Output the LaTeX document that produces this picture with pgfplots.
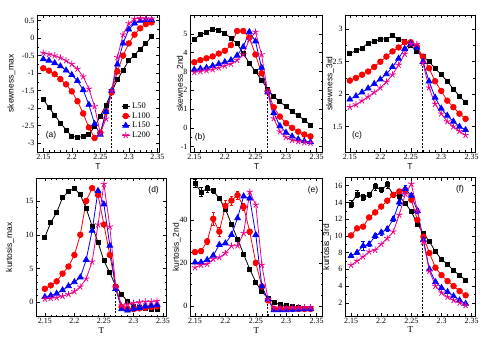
\documentclass[border=0pt]{standalone}
\usepackage{pgfplots}
\pgfplotsset{compat=1.18}
\usepackage{fontspec}
\setmainfont{Liberation Serif}
\setsansfont{Liberation Sans}
\pgfplotsset{
  panel/.style={scale only axis, axis line style={line width=0.7bp},
    every tick/.style={black, line width=0.5bp}, major tick length=3.5bp, minor tick length=2bp,
    tick label style={font=\fontsize{8}{9}\selectfont},
    /pgf/number format/assume math mode=true,
    xtick={2.15,2.2,2.25,2.3,2.35}, xticklabels={2.15,2.2,2.25,2.3,2.35}, minor x tick num=4,
    xticklabel style={yshift=1.5bp}, yticklabel style={xshift=1bp},
    label style={font=\sffamily\fontsize{8.5}{9}\selectfont},
    xlabel={T}, clip=false},
  L50/.style={black, line width=0.8bp, mark=square*, mark size=2bp},
  L100/.style={red, line width=0.8bp, mark=*, mark size=2.8bp},
  L150/.style={blue, line width=0.8bp, mark=triangle*, mark size=3.3bp},
  L200/.style={magenta, line width=0.8bp, mark=star, mark size=3.4bp, mark options={line width=0.8bp}},
  eb/.style={error bars/.cd, y dir=both, y explicit, error bar style={line width=0.6bp}, error mark options={rotate=90, mark size=1.6bp, line width=0.6bp}},
  tc/.style={black, line width=0.9bp, dash pattern=on 2bp off 1.5bp, forget plot}
}
\tikzset{plab/.style={font=\sffamily\fontsize{8.5}{9}\selectfont}}
\begin{document}
\begin{tikzpicture}
\path[use as bounding box] (0,0) rectangle (491bp,339bp);
% (a)
\begin{axis}[panel, at={(37bp,324bp)}, anchor=north west, width=122bp, height=137bp,
  xmin=2.139, xmax=2.353, ymin=-3.25, ymax=0.66,
  ytick={-3,-2.5,-2,-1.5,-1,-0.5,0,0.5}, yticklabels={-3,-2.5,-2,-1.5,-1,-0.5,0,0.5}, minor y tick num=1,
  ylabel={skewness\_max}, ylabel style={at={(axis description cs:-0.21,0.5)}, anchor=center},
  xlabel style={at={(axis description cs:0.5,-0.105)}, anchor=center},
  legend style={draw=none, fill=none, at={(0.69,0.375)}, anchor=north west, font=\fontsize{8.5}{9}\selectfont, row sep=-1.5bp, inner sep=0pt},
  legend cell align=left,
  legend image code/.code={\draw[mark repeat=2,mark phase=2] plot coordinates {(0bp,0bp)(4bp,0bp)(8bp,0bp)};}]
\addplot[L50] coordinates {(2.15,-1.75)(2.16,-1.98)(2.17,-2.2)(2.18,-2.42)(2.19,-2.62)(2.20,-2.80)(2.21,-2.83)(2.22,-2.81)(2.23,-2.74)(2.24,-2.53)(2.25,-2.22)(2.26,-1.91)(2.27,-1.53)(2.28,-1.19)(2.29,-0.91)(2.30,-0.64)(2.31,-0.48)(2.32,-0.31)(2.33,-0.15)(2.34,0.04)};
\addplot[L100] coordinates {(2.15,-0.86)(2.16,-0.93)(2.17,-1.03)(2.18,-1.17)(2.19,-1.32)(2.20,-1.52)(2.21,-1.8)(2.22,-2.15)(2.23,-2.55)(2.24,-2.85)(2.25,-2.7)(2.26,-2.1)(2.27,-1.55)(2.28,-0.95)(2.29,-0.5)(2.30,-0.15)(2.31,0.1)(2.32,0.28)(2.33,0.4)(2.34,0.45)};
\addplot[L150] coordinates {(2.15,-0.6)(2.16,-0.64)(2.17,-0.71)(2.18,-0.8)(2.19,-0.92)(2.20,-1.05)(2.21,-1.22)(2.22,-1.48)(2.23,-1.9)(2.24,-2.45)(2.25,-2.75)(2.26,-2.1)(2.27,-1.5)(2.28,-0.75)(2.29,-0.15)(2.30,0.25)(2.31,0.42)(2.32,0.5)(2.33,0.52)(2.34,0.52)};
\addplot[L200] coordinates {(2.15,-0.42)(2.16,-0.46)(2.17,-0.5)(2.18,-0.56)(2.19,-0.64)(2.20,-0.74)(2.21,-0.88)(2.22,-1.1)(2.23,-1.45)(2.24,-1.95)(2.25,-2.72)(2.26,-2.3)(2.27,-1.5)(2.28,-0.55)(2.29,0.1)(2.30,0.42)(2.31,0.55)(2.32,0.57)(2.33,0.56)(2.34,0.55)};
\addplot[tc] coordinates {(2.269,-3.25)(2.269,-1.55)};
\legend{L50,L100,L150,L200}
\node[plab] at (rel axis cs:0.115,0.124) {(a)};
\end{axis}
% (b)
\begin{axis}[panel, at={(190bp,324bp)}, anchor=north west, width=132.7bp, height=137bp,
  xmin=2.143, xmax=2.36, ymin=-1.28, ymax=6.0,
  ytick={-1,0,1,2,3,4,5}, yticklabels={-1,0,1,2,3,4,5}, minor y tick num=1,
  ylabel={skewness\_2nd}, ylabel style={at={(axis description cs:-0.07,0.5)}, anchor=center},
  xlabel style={at={(axis description cs:0.5,-0.105)}, anchor=center}]
\addplot[L50] coordinates {(2.15,4.72)(2.16,4.95)(2.17,5.09)(2.18,5.25)(2.19,5.2)(2.20,5.03)(2.21,4.77)(2.22,4.47)(2.23,3.97)(2.24,3.44)(2.25,3.0)(2.26,2.55)(2.27,2.05)(2.28,1.66)(2.29,1.39)(2.30,1.13)(2.31,0.86)(2.32,0.65)(2.33,0.42)(2.34,0.15)};
\addplot[L100] coordinates {(2.15,3.49)(2.16,3.6)(2.17,3.7)(2.18,3.8)(2.19,3.95)(2.20,4.1)(2.21,4.4)(2.22,5.15)(2.23,5.15)(2.24,4.8)(2.25,3.9)(2.26,2.9)(2.27,1.95)(2.28,1.1)(2.29,0.6)(2.30,0.25)(2.31,0.0)(2.32,-0.2)(2.33,-0.35)(2.34,-0.45)};
\addplot[L150] coordinates {(2.15,3.1)(2.16,3.15)(2.17,3.2)(2.18,3.3)(2.19,3.4)(2.20,3.5)(2.21,3.6)(2.22,3.85)(2.23,4.3)(2.24,5.1)(2.25,4.6)(2.26,3.2)(2.27,1.9)(2.28,0.8)(2.29,0.1)(2.30,-0.25)(2.31,-0.45)(2.32,-0.6)(2.33,-0.7)(2.34,-0.75)};
\addplot[L200] coordinates {(2.15,2.95)(2.16,3.0)(2.17,3.05)(2.18,3.1)(2.19,3.2)(2.20,3.3)(2.21,3.4)(2.22,3.6)(2.23,3.9)(2.24,4.7)(2.25,5.1)(2.26,3.9)(2.27,1.9)(2.28,0.5)(2.29,-0.2)(2.30,-0.5)(2.31,-0.65)(2.32,-0.72)(2.33,-0.78)(2.34,-0.8)};
\addplot[tc] coordinates {(2.269,-1.28)(2.269,1.9)};
\node[plab] at (rel axis cs:0.075,0.11) {(b)};
\end{axis}
% (c)
\begin{axis}[panel, at={(345bp,324bp)}, anchor=north west, width=130bp, height=137bp,
  xmin=2.142, xmax=2.3555, ymin=1.11, ymax=3.22,
  ytick={1.5,2,2.5,3}, yticklabels={1.5,2,2.5,3}, minor y tick num=1,
  ylabel={skewness\_3rd}, ylabel style={at={(axis description cs:-0.115,0.5)}, anchor=center},
  xlabel style={at={(axis description cs:0.5,-0.105)}, anchor=center}]
\addplot[L50] coordinates {(2.15,2.63)(2.16,2.67)(2.17,2.71)(2.18,2.79)(2.19,2.81)(2.20,2.85)(2.21,2.85)(2.22,2.9)(2.23,2.85)(2.24,2.82)(2.25,2.75)(2.26,2.66)(2.27,2.58)(2.28,2.5)(2.29,2.4)(2.30,2.3)(2.31,2.2)(2.32,2.08)(2.33,1.97)(2.34,1.87)};
\addplot[L100] coordinates {(2.15,2.21)(2.16,2.25)(2.17,2.3)(2.18,2.35)(2.19,2.42)(2.20,2.5)(2.21,2.58)(2.22,2.66)(2.23,2.72)(2.24,2.8)(2.25,2.8)(2.26,2.73)(2.27,2.58)(2.28,2.4)(2.29,2.2)(2.30,2.05)(2.31,1.9)(2.32,1.8)(2.33,1.7)(2.34,1.62)};
\addplot[L150] coordinates {(2.15,1.92)(2.16,1.97)(2.17,2.03)(2.18,2.09)(2.19,2.16)(2.20,2.23)(2.21,2.31)(2.22,2.42)(2.23,2.55)(2.24,2.7)(2.25,2.78)(2.26,2.72)(2.27,2.5)(2.28,2.2)(2.29,1.95)(2.30,1.78)(2.31,1.67)(2.32,1.58)(2.33,1.5)(2.34,1.45)};
\addplot[L200] coordinates {(2.15,1.8)(2.16,1.84)(2.17,1.9)(2.18,1.96)(2.19,2.03)(2.20,2.1)(2.21,2.19)(2.22,2.3)(2.23,2.45)(2.24,2.62)(2.25,2.77)(2.26,2.77)(2.27,2.48)(2.28,2.1)(2.29,1.85)(2.30,1.7)(2.31,1.58)(2.32,1.5)(2.33,1.43)(2.34,1.37)};
\addplot[tc] coordinates {(2.269,1.11)(2.269,2.55)};
\node[plab] at (rel axis cs:0.092,0.124) {(c)};
\end{axis}
% (d)
\begin{axis}[panel, at={(36bp,161bp)}, anchor=north west, width=130.7bp, height=138.5bp,
  xmin=2.135, xmax=2.3563, ymin=-2.1, ymax=18.4,
  ytick={0,5,10,15}, yticklabels={0,5,10,15}, minor y tick num=4,
  ylabel={kurtosis\_max}, ylabel style={at={(axis description cs:-0.2,0.5)}, anchor=center},
  xlabel style={at={(axis description cs:0.5,-0.1)}, anchor=center, font=\fontsize{9}{9}\selectfont}]
\addplot[L50] coordinates {(2.15,9.65)(2.16,11.8)(2.17,13.3)(2.18,15.5)(2.19,16.4)(2.20,16.9)(2.21,15.9)(2.22,13.9)(2.23,11.25)(2.24,8.9)(2.25,6.15)(2.26,4.4)(2.27,2.4)(2.28,1.15)(2.29,0.15)(2.30,-0.6)(2.31,-0.8)(2.32,-0.9)(2.33,-1.0)(2.34,-1.0)};
\addplot[L100] coordinates {(2.15,2.0)(2.16,2.5)(2.17,3.1)(2.18,4.25)(2.19,5.3)(2.20,7.0)(2.21,10.0)(2.22,15.0)(2.23,16.9)(2.24,15.9)(2.25,11.5)(2.26,7.0)(2.27,2.3)(2.28,-0.7)(2.29,-1.0)(2.30,-1.0)(2.31,-0.9)(2.32,-0.8)(2.33,-0.7)(2.34,-0.6)};
\addplot[L150] coordinates {(2.15,0.8)(2.16,1.0)(2.17,1.3)(2.18,1.8)(2.19,2.4)(2.20,3.0)(2.21,3.7)(2.22,6.3)(2.23,10.6)(2.24,16.5)(2.25,14.5)(2.26,8.4)(2.27,2.0)(2.28,-1.0)(2.29,-1.2)(2.30,-1.0)(2.31,-0.8)(2.32,-0.6)(2.33,-0.5)(2.34,-0.4)};
\addplot[L200] coordinates {(2.15,0.5)(2.16,0.6)(2.17,0.7)(2.18,0.9)(2.19,1.2)(2.20,1.6)(2.21,2.3)(2.22,3.5)(2.23,6.0)(2.24,11.5)(2.25,17.5)(2.26,11.2)(2.27,2.3)(2.28,-0.5)(2.29,-0.3)(2.30,-0.1)(2.31,0.0)(2.32,0.1)(2.33,0.1)(2.34,0.2)};
\addplot[tc] coordinates {(2.269,-2.1)(2.269,2.0)};
\node[plab] at (rel axis cs:0.9,0.913) {(d)};
\end{axis}
% (e)
\begin{axis}[panel, at={(190bp,161bp)}, anchor=north west, width=132.7bp, height=138.5bp,
  xmin=2.1418, xmax=2.36, ymin=-5, ymax=59.5,
  ytick={0,20,40}, yticklabels={0,20,40}, minor y tick num=3,
  ylabel={kurtosis\_2nd}, ylabel style={at={(axis description cs:-0.1,0.5)}, anchor=center},
  xlabel style={at={(axis description cs:0.5,-0.1)}, anchor=center, font=\fontsize{9}{9}\selectfont}]
\addplot[L50, eb] coordinates {(2.15,57) +- (0,2)(2.16,53) +- (0,2)(2.17,54.5) +- (0,1.5)(2.18,53.5) +- (0,1)(2.19,50) +- (0,1)(2.20,45) +- (0,1)(2.21,38) +- (0,1)(2.22,31) +- (0,0.8)(2.23,24) +- (0,0.8)(2.24,17) +- (0,0.6)(2.25,11) +- (0,0.5)(2.26,6.5) +- (0,0.4)(2.27,3.5) +- (0,0.3)(2.28,1.5) +- (0,0.3)(2.29,0.5) +- (0,0.2)(2.30,0) +- (0,0.2)(2.31,-0.5) +- (0,0.2)(2.32,-0.8) +- (0,0.2)(2.33,-1) +- (0,0.2)(2.34,-1) +- (0,0.2)};
\addplot[L100, eb] coordinates {(2.15,25) +- (0,1)(2.16,25.5) +- (0,1)(2.17,30) +- (0,1.5)(2.18,40.5) +- (0,3)(2.19,34.5) +- (0,2)(2.20,46.5) +- (0,2.5)(2.21,49) +- (0,2)(2.22,51.5) +- (0,2)(2.23,46) +- (0,1.5)(2.24,34.5) +- (0,1)(2.25,20) +- (0,1)(2.26,9) +- (0,0.5)(2.27,2.5) +- (0,0.3)(2.28,-1.5) +- (0,0.2)(2.29,-1.5) +- (0,0.2)(2.30,-1.5) +- (0,0.2)(2.31,-1.5) +- (0,0.2)(2.32,-1.5) +- (0,0.2)(2.33,-1.5) +- (0,0.2)(2.34,-1.5) +- (0,0.2)};
\addplot[L150] coordinates {(2.15,20.2)(2.16,20.2)(2.17,21.4)(2.18,23.4)(2.19,28.4)(2.20,29.1)(2.21,33)(2.22,40.8)(2.23,51)(2.24,50)(2.25,33)(2.26,9)(2.27,3)(2.28,-2)(2.29,-2)(2.30,-2)(2.31,-1.8)(2.32,-1.7)(2.33,-1.6)(2.34,-1.5)};
\addplot[L200] coordinates {(2.15,17.8)(2.16,19)(2.17,19.4)(2.18,21.7)(2.19,22.5)(2.20,24.5)(2.21,27.9)(2.22,28)(2.23,33.8)(2.24,53)(2.25,47)(2.26,19)(2.27,3)(2.28,-1)(2.29,-1)(2.30,-1)(2.31,-0.8)(2.32,-0.8)(2.33,-0.8)(2.34,-0.8)};
\addplot[tc] coordinates {(2.269,-5)(2.269,3)};
\node[plab] at (rel axis cs:0.927,0.913) {(e)};
\end{axis}
% (f)
\begin{axis}[panel, at={(345bp,161.3bp)}, anchor=north west, width=130.7bp, height=138.5bp,
  xmin=2.14, xmax=2.3567, ymin=0.4, ymax=16.95,
  ytick={2,4,6,8,10,12,14,16}, yticklabels={2,4,6,8,10,12,14,16}, minor y tick num=1,
  ylabel={kurtosis\_3rd}, ylabel style={at={(axis description cs:-0.138,0.5)}, anchor=center},
  xlabel style={at={(axis description cs:0.5,-0.1)}, anchor=center, font=\fontsize{9}{9}\selectfont}]
\addplot[L50, eb] coordinates {(2.15,13.8) +- (0,0.4)(2.16,15.0) +- (0,0.45)(2.17,14.6) +- (0,0.4)(2.18,14.9) +- (0,0.35)(2.19,15.9) +- (0,0.4)(2.20,15.5) +- (0,0.35)(2.21,16.1) +- (0,0.4)(2.22,14.9) +- (0,0.3)(2.23,14.7) +- (0,0.3)(2.24,13.9) +- (0,0.25)(2.25,12.9) +- (0,0.2)(2.26,11.4) +- (0,0.2)(2.27,10.3) +- (0,0.15)(2.28,9.3) +- (0,0.15)(2.29,8.1) +- (0,0.1)(2.30,7.2) +- (0,0.1)(2.31,6.6) +- (0,0.1)(2.32,5.85) +- (0,0.1)(2.33,5.3) +- (0,0.1)(2.34,4.7) +- (0,0.1)};
\addplot[L100] coordinates {(2.15,10.05)(2.16,10.9)(2.17,11.1)(2.18,12.2)(2.19,12.8)(2.20,13.5)(2.21,14.2)(2.22,14.9)(2.23,15.3)(2.24,15.5)(2.25,14.3)(2.26,11.9)(2.27,9.9)(2.28,7.95)(2.29,6.2)(2.30,5.3)(2.31,4.6)(2.32,4.0)(2.33,3.4)(2.34,2.9)};
\addplot[L150, eb] coordinates {(2.15,7.6) +- (0,0.2)(2.16,8.0) +- (0,0.2)(2.17,8.8) +- (0,0.5)(2.18,9.0) +- (0,0.3)(2.19,10.0) +- (0,0.3)(2.20,10.4) +- (0,0.3)(2.21,10.8) +- (0,0.3)(2.22,12.0) +- (0,0.3)(2.23,14.0) +- (0,0.3)(2.24,15.6) +- (0,0.5)(2.25,14.8) +- (0,0.3)(2.26,13.0) +- (0,0.3)(2.27,9.5) +- (0,0.2)(2.28,6.0) +- (0,0.2)(2.29,4.5) +- (0,0.1)(2.30,3.8) +- (0,0.1)(2.31,3.3) +- (0,0.1)(2.32,2.8) +- (0,0.1)(2.33,2.3) +- (0,0.1)(2.34,1.9) +- (0,0.1)};
\addplot[L200] coordinates {(2.15,6.5)(2.16,7.0)(2.17,7.5)(2.18,8.1)(2.19,8.3)(2.20,9.0)(2.21,9.7)(2.22,10.5)(2.23,12.5)(2.24,15.0)(2.25,16.2)(2.26,13.0)(2.27,9.3)(2.28,5.8)(2.29,4.0)(2.30,3.2)(2.31,2.7)(2.32,2.3)(2.33,2.0)(2.34,1.7)};
\addplot[tc] coordinates {(2.269,0.4)(2.269,9.5)};
\node[plab] at (rel axis cs:0.88,0.913) {(f)};
\end{axis}
\end{tikzpicture}
\end{document}
